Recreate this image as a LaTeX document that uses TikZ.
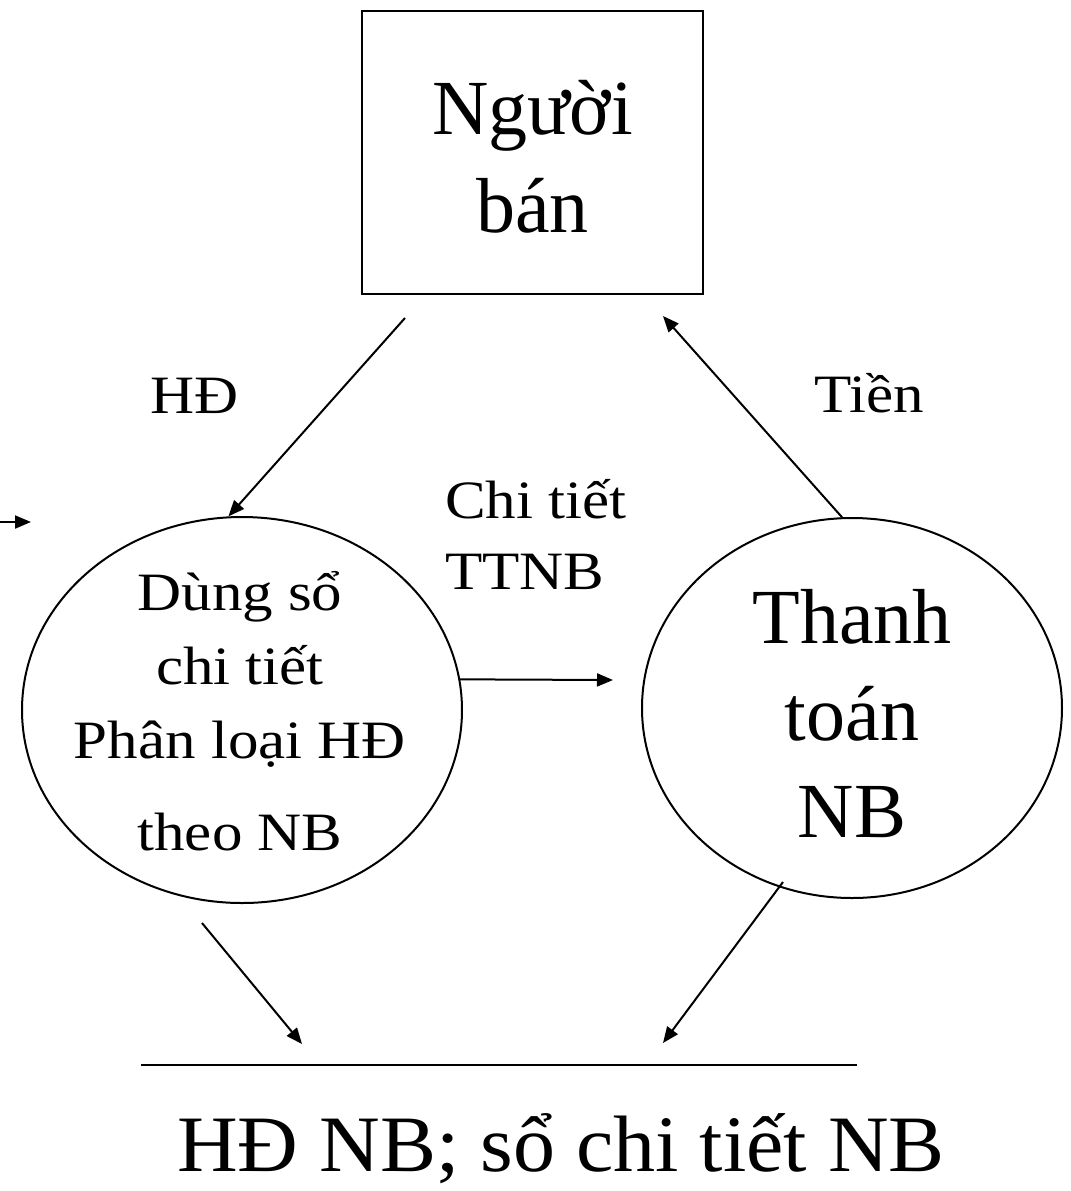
\documentclass[tikz,border=0pt]{standalone}
\usepackage{fontspec}
\setmainfont{Liberation Serif}
\newfontfamily\wideserif{Liberation Serif}[FakeStretch=1.13]
\newfontfamily\bottomserif{Liberation Serif}[FakeStretch=1.05]
\usetikzlibrary{shapes.geometric,arrows.meta}

\begin{document}
\begin{tikzpicture}[x=0.5pt,y=-0.5pt,
  flow/.style={line width=1pt,-{Triangle[length=8pt,width=6.5pt]}},
  bigtext/.style={align=center,font=\fontsize{39}{49}\selectfont},
  smalltext/.style={align=center,font=\wideserif\fontsize{27}{37}\selectfont}]
\useasboundingbox (0,0) rectangle (1071,1191);
%Boxes and circles
\node[draw,line width=1pt,minimum width=170.5pt,minimum height=141.5pt] (seller) at (532.5,152.5) {};
\node[bigtext] (sellerText) at (532.5,157) {Người\\ bán};
\node[draw,ellipse,line width=1pt,inner sep=0pt,minimum width=220pt,minimum height=193pt] (ledger) at (242,710) {};
\node[smalltext] (ledgerText) at (240,711) {Dùng sổ\\ chi tiết\\ Phân loại HĐ\\[9pt] theo NB};
\node[draw,ellipse,line width=1pt,inner sep=0pt,minimum width=210pt,minimum height=190pt] (pay) at (852,708) {};
\node[bigtext,font=\fontsize{39}{48.5}\selectfont] (payText) at (852,714) {Thanh\\ toán\\ NB};
%Labeling arrows
\node[smalltext] (hd) at (195,396) {HĐ};
\node[smalltext] (tien) at (869,393) {Tiền};
\node[smalltext,align=left,anchor=west,font=\wideserif\fontsize{27}{35.5}\selectfont] (detail) at (438,535) {Chi tiết\\ TTNB};
\node[font=\bottomserif\fontsize{40}{47}\selectfont] (summary) at (561,1149) {HĐ NB; sổ chi tiết NB};
%Free ends
\coordinate (hdTail) at (405,318);
\coordinate (tienHead) at (663,316);
\coordinate (inTail) at (0,522);
\coordinate (inHead) at (31,522);
\coordinate (midHead) at (613,680);
\coordinate (leftTail) at (202,923);
\coordinate (leftHead) at (302,1044);
\coordinate (rightTail) at (783,882);
\coordinate (rightHead) at (663,1043);
\coordinate (baseL) at (141,1065);
\coordinate (baseR) at (857,1065);
\draw[flow] (hdTail) -- (ledger.94);
\draw[flow] (pay.93) -- (tienHead);
\draw[flow] (inTail) -- (inHead);
\draw[flow] (ledger.8) -- (midHead);
\draw[flow] (leftTail) -- (leftHead);
\draw[flow] (rightTail) -- (rightHead);
\draw[line width=1pt] (baseL) -- (baseR);
\end{tikzpicture}
\end{document}
